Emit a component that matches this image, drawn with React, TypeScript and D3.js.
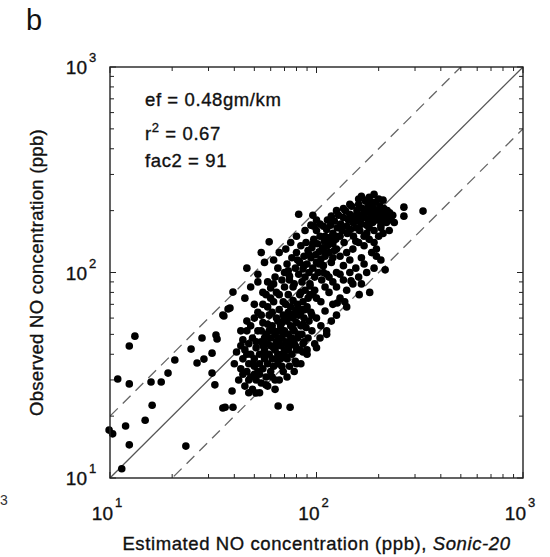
import React from "react";
import * as d3 from "d3";

// Estimated (x) vs observed (y) NO concentration, ppb
const outlierPoints: [number, number][] = [
  [13.2, 49], [12.4, 43.9], [10.9, 30.3], [12.4, 28.7], [15.8, 29.3], [17.7, 29.3],
  [19.1, 32.4], [20.6, 37.5], [24.7, 42.4], [27.9, 48.0], [32.6, 49.6], [33.0, 47.5],
  [31.2, 40.5], [28.5, 37.9], [26.4, 36.3], [31.2, 32.4], [32.2, 28.4], [35.2, 21.9],
  [16.0, 22.6], [14.8, 19.1], [11.9, 17.9], [9.9, 17.1], [10.3, 16.4], [12.4, 14.5],
  [23.3, 14.3], [11.4, 11.1], [35.6, 61.4], [37.3, 66.4], [39.4, 80.3], [38.1, 67.1],
  [35.2, 62.1], [36.1, 22.1], [39.4, 22.1], [65.2, 22.4], [74.5, 22.1], [39.0, 26.5],
  [50.9, 25.9], [56.9, 28.4],
];

const lowBlob: [number, number][] = [
  [42, 30], [43, 34], [44, 38], [45, 28], [45, 42], [46, 33], [47, 36], [47, 45], [48, 31], [48, 40],
  [49, 27], [49, 48], [50, 35], [50, 38], [51, 30], [51, 43], [52, 33], [52, 52], [53, 40], [53, 36],
  [54, 29], [54, 46], [55, 34], [55, 57], [56, 42], [56, 38], [57, 31], [57, 50], [58, 36], [58, 45],
  [59, 40], [59, 62], [60, 33], [60, 48], [61, 38], [61, 55], [62, 43], [62, 35], [63, 50], [63, 30],
  [64, 46], [64, 60], [65, 40], [65, 36], [66, 52], [66, 66], [67, 44], [67, 38], [68, 57], [68, 48],
  [69, 33], [69, 62], [70, 42], [70, 52], [71, 46], [71, 70], [72, 38], [72, 58], [73, 50], [73, 64],
  [74, 44], [74, 35], [75, 55], [75, 68], [76, 48], [76, 40], [77, 60], [77, 73], [78, 52], [78, 45],
  [79, 64], [80, 36], [80, 57], [81, 70], [81, 48], [82, 62], [83, 42], [83, 78], [84, 55], [85, 66],
  [85, 50], [86, 72], [87, 46], [87, 60], [88, 82], [89, 54], [90, 68], [90, 40], [91, 75], [92, 58],
  [93, 86], [94, 64], [95, 52], [96, 78], [44, 47], [46, 52], [48, 55], [50, 60], [52, 64], [55, 70],
  [58, 68], [60, 75], [62, 72], [64, 80], [47, 26], [53, 26], [58, 28], [63, 27], [66, 30], [72, 31],
  [78, 33], [84, 36], [40, 36], [41, 41], [43, 52], [46, 58], [54, 62], [57, 78], [62, 88], [66, 78],
  [70, 85], [74, 92], [50, 32], [56, 48], [67, 55], [72, 45], [76, 62], [80, 66], [86, 56], [91, 48],
  [59, 52], [63, 42], [68, 40], [55, 44], [61, 64], [65, 58], [69, 72], [73, 78], [45, 75], [48, 85],
  [52, 90], [55, 80], [50, 70], [46, 105], [52, 98], [56, 112], [54, 125],
  [44, 32], [46, 40], [49, 36], [51, 46], [53, 32], [57, 40], [60, 44], [62, 52], [64, 38], [66, 45],
  [68, 35], [70, 60], [73, 42], [75, 47], [77, 53], [79, 44], [82, 50], [84, 64], [86, 45], [88, 66],
  [43, 44], [47, 30], [54, 52], [58, 56], [61, 31], [65, 48], [69, 50], [71, 39], [75, 62], [80, 42],
];

const middleBand: [number, number][] = [
  [68, 92], [70, 100], [72, 110], [74, 96], [76, 118], [78, 88], [79, 105], [80, 125], [82, 98], [83, 112],
  [84, 135], [85, 90], [86, 104], [87, 120], [88, 95], [89, 140], [90, 110], [91, 128], [92, 100], [93, 88],
  [94, 118], [95, 132], [96, 105], [97, 145], [98, 95], [99, 122], [100, 112], [101, 138], [102, 100], [103, 126],
  [104, 150], [105, 116], [106, 92], [107, 132], [108, 108], [109, 142], [110, 120], [112, 98], [113, 135], [115, 125],
  [116, 148], [118, 112], [120, 138], [122, 128], [124, 150], [60, 84], [63, 95], [65, 105], [58, 90], [62, 115],
  [66, 125], [75, 140], [80, 150], [71, 130], [59, 141], [82, 192], [94, 170], [97, 168], [88, 160], [100, 160],
  [77, 85], [84, 80], [93, 78], [98, 82],
  [73, 102], [81, 115], [87, 108], [92, 122], [96, 138], [103, 110], [108, 128], [111, 145],
];

const upperBand: [number, number][] = [
  [110, 150], [112, 162], [115, 140], [117, 170], [120, 155], [122, 178], [124, 145], [126, 165], [128, 190], [130, 150],
  [131, 172], [133, 160], [135, 185], [136, 140], [138, 200], [140, 168], [141, 155], [143, 180], [145, 192], [146, 162],
  [148, 210], [150, 175], [151, 150], [153, 188], [155, 165], [157, 200], [158, 178], [160, 215], [162, 160], [163, 190],
  [165, 172], [167, 205], [168, 185], [170, 150], [172, 195], [173, 222], [175, 170], [177, 182], [178, 208], [180, 165],
  [182, 198], [184, 188], [185, 215], [187, 175], [189, 205], [190, 160], [192, 192], [194, 220], [196, 180], [198, 200],
  [200, 185], [203, 210], [205, 170], [207, 195], [210, 180], [212, 205], [215, 190], [218, 175], [220, 200], [223, 185],
  [226, 195], [230, 180], [234, 190], [238, 175], [150, 130], [160, 140], [170, 135], [180, 145], [190, 140], [200, 150],
  [140, 125], [130, 120], [120, 118], [125, 130], [165, 118], [185, 125], [210, 155], [195, 130], [205, 165], [225, 160],
  [175, 225], [160, 228], [145, 215], [135, 205], [125, 200], [118, 188], [113, 180], [108, 168], [104, 172], [100, 180],
  [96, 190], [155, 142], [175, 155], [165, 235], [180, 232], [190, 240], [200, 228], [185, 220],
  [265, 208], [265, 188], [328, 199], [210, 225],
];

const lowerRight: [number, number][] = [
  [215, 103], [147, 91], [181, 80], [161, 78], [100, 60], [105, 72], [110, 65], [115, 80], [120, 70], [125, 85],
  [130, 75], [135, 92], [140, 82], [145, 100], [150, 88], [155, 105], [160, 95], [170, 110], [175, 100], [190, 105],
  [120, 90], [110, 85], [100, 75], [95, 62], [105, 55], [112, 50], [98, 45], [104, 48], [125, 62], [118, 58],
  [140, 68], [130, 98], [165, 88], [195, 120], [205, 115], [145, 115], [135, 108], [125, 100], [115, 95], [108, 100],
  [90, 42], [86, 41], [100, 43], [79, 37], [112, 52], [126, 71], [137, 72],
];

const allPoints = [...outlierPoints, ...lowBlob, ...middleBand, ...upperBand, ...lowerRight];

const domain: [number, number] = [10, 1000];
const decadeLabels = [
  { value: 10, exp: "1" },
  { value: 100, exp: "2" },
  { value: 1000, exp: "3" },
];
const refLines = [
  { factor: 1, dashed: false },
  { factor: 2, dashed: true },
  { factor: 0.5, dashed: true },
];

const W = 550;
const H = 557;
const L = 110, R = 523, T = 67, B = 478;
const FONT = "'Liberation Sans', Arial, Helvetica, sans-serif";
const TXT = { fontFamily: FONT, fill: "#111", stroke: "#111", strokeWidth: 0.35 };

export default function App() {
  const x = d3.scaleLog().domain(domain).range([L, R]);
  const y = d3.scaleLog().domain(domain).range([B, T]);

  const tickVals: number[] = [];
  for (const dec of [10, 100]) {
    for (let m = 1; m <= 9; m++) tickVals.push(dec * m);
  }
  tickVals.push(1000);

  return (
    <svg width={W} height={H} style={{ position: "absolute", left: 0, top: 0, background: "#fff" }}>
      <rect x={0} y={0} width={W} height={H} fill="#fff" />
      <text x={26} y={30} fontFamily={FONT} fontSize={29} fill="#111">b</text>
      <text x={0} y={505} fontFamily={FONT} fontSize={14} fill="#333">3</text>

      <defs>
        <clipPath id="plotclip">
          <rect x={L} y={T} width={R - L} height={B - T} />
        </clipPath>
      </defs>

      {/* reference lines */}
      <g clipPath="url(#plotclip)">
        {refLines.map((rl, i) => {
          const x0 = 10, x1 = 1000;
          return (
            <line
              key={i}
              x1={x(x0)}
              y1={y(x0 * rl.factor)}
              x2={x(x1)}
              y2={y(x1 * rl.factor)}
              stroke={rl.dashed ? "#666" : "#555"}
              strokeWidth={1.3}
              strokeDasharray={rl.dashed ? "11 7" : undefined}
            />
          );
        })}
      </g>

      {/* points */}
      <g>
        {allPoints.map((p, i) => (
          <circle key={i} cx={x(p[0])} cy={y(p[1])} r={3.8} fill="#000" />
        ))}
      </g>

      {/* frame */}
      <rect x={L} y={T} width={R - L} height={B - T} fill="none" stroke="#222" strokeWidth={1.4} />

      {/* ticks on all sides, inward */}
      <g stroke="#222" strokeWidth={1}>
        {tickVals.map((v, i) => {
          const len = decadeLabels.some((d) => d.value === v) ? 6 : 4;
          const xv = x(v);
          const yv = y(v);
          return (
            <g key={i}>
              <line x1={xv} x2={xv} y1={B} y2={B - len} />
              <line x1={xv} x2={xv} y1={T} y2={T + len} />
              <line x1={L} x2={L + len} y1={yv} y2={yv} />
              <line x1={R} x2={R - len} y1={yv} y2={yv} />
            </g>
          );
        })}
      </g>

      {/* y tick labels */}
      {decadeLabels.map((d) => (
        <g key={"y" + d.value}>
          <text x={87} y={y(d.value) + 7} textAnchor="end" fontSize={19} {...TXT}>10</text>
          <text x={89} y={y(d.value) - 5} fontSize={13} {...TXT}>{d.exp}</text>
        </g>
      ))}

      {/* x tick labels */}
      {decadeLabels.map((d) => (
        <g key={"x" + d.value}>
          <text x={x(d.value) + 3} y={520} textAnchor="end" fontSize={19} {...TXT}>10</text>
          <text x={x(d.value) + 5} y={507} fontSize={13} {...TXT}>{d.exp}</text>
        </g>
      ))}

      {/* annotations */}
      <text x={145} y={106} fontSize={18.5} letterSpacing={0.6} {...TXT}>ef = 0.48gm/km</text>
      <text x={145} y={140} fontSize={18.5} letterSpacing={0.6} {...TXT}>
        r<tspan dy={-8} fontSize={13}>2</tspan>
        <tspan dy={8}> = 0.67</tspan>
      </text>
      <text x={145} y={167} fontSize={18.5} letterSpacing={0.6} {...TXT}>fac2 = 91</text>

      {/* axis titles */}
      <text x={(L + R) / 2} y={550} textAnchor="middle" fontSize={18.5} letterSpacing={0.6} {...TXT}>
        Estimated NO concentration (ppb), <tspan fontStyle="italic">Sonic-20</tspan>
      </text>
      <text
        transform={`translate(43, ${(T + B) / 2}) rotate(-90)`}
        textAnchor="middle"
        fontSize={18.5}
        letterSpacing={0.3}
        {...TXT}
      >
        Observed NO concentration (ppb)
      </text>
    </svg>
  );
}
